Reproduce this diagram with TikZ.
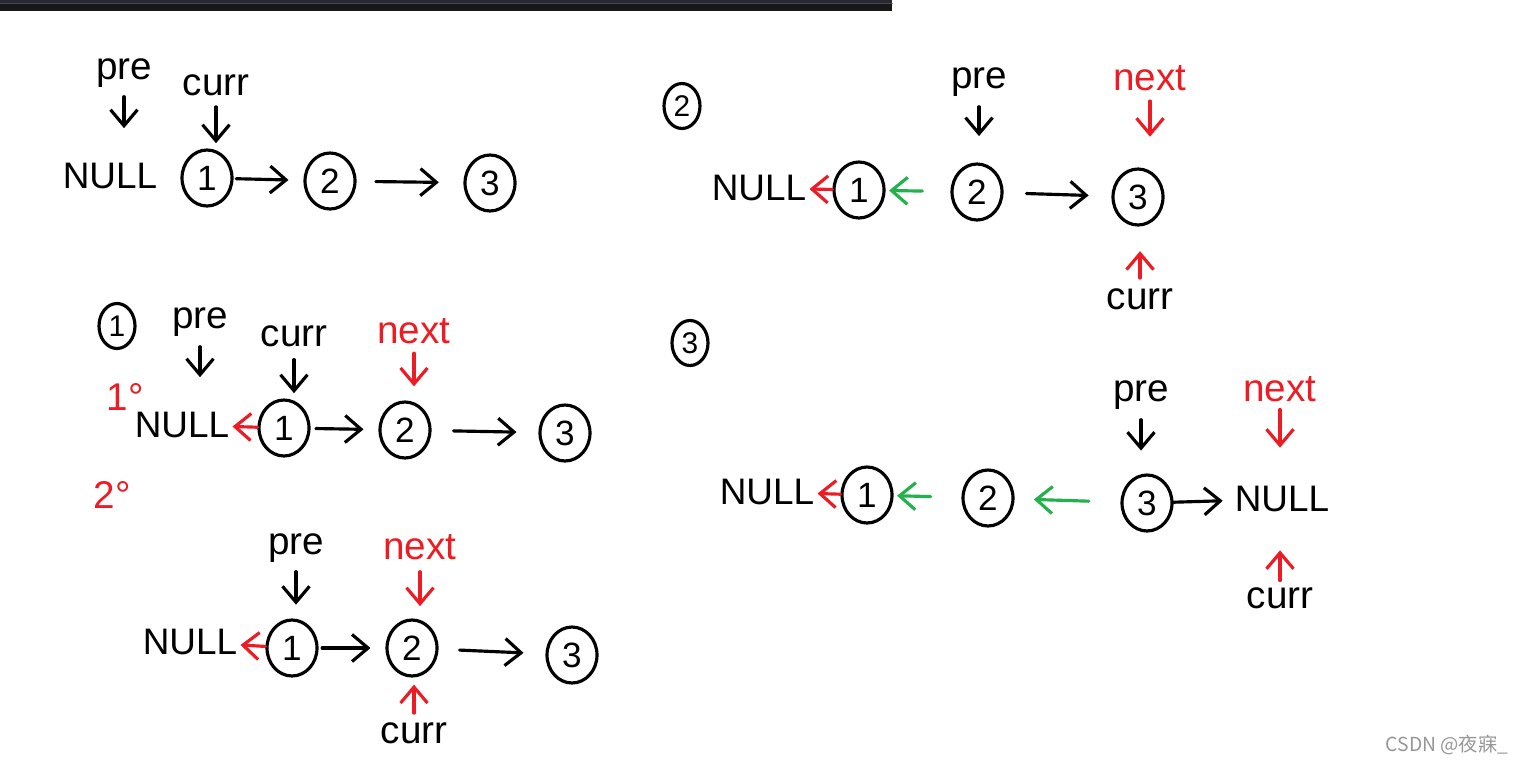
\documentclass[tikz,border=0pt]{standalone}
\usepackage{fontspec}
\setmainfont{Liberation Sans}
\newfontfamily\cjkfont{Noto Sans CJK SC}
\usetikzlibrary{arrows.meta,shapes.geometric}
\definecolor{penred}{RGB}{237,28,36}
\definecolor{pengreen}{RGB}{34,177,76}
\definecolor{barblack}{RGB}{24,24,25}
\definecolor{bartop}{RGB}{40,41,46}
\definecolor{barline}{RGB}{72,73,78}
\definecolor{markgray}{RGB}{150,150,150}
\tikzset{
  elem/.style={ellipse,draw,minimum width=1cm,minimum height=1.12cm,inner sep=0pt,font=\fontsize{20}{22}\selectfont},
  stepno/.style={ellipse,draw,minimum width=0.72cm,minimum height=0.9cm,inner sep=0pt,font=\fontsize{17}{18}\selectfont},
  nil/.style={inner sep=1pt,font=\fontsize{21}{23}\selectfont},
  ptr/.style={inner sep=1pt,font=\fontsize{22}{24}\selectfont},
  redptr/.style={ptr,text=penred},
  rlink/.style={->,penred},
  glink/.style={->,pengreen},
}

\begin{document}
\begin{tikzpicture}[x=0.02cm,y=-0.02cm,line width=1.8pt,line cap=round,>={Straight Barb[length=3.2mm,width=5.4mm]}]
  \useasboundingbox (0,0) rectangle (1523,764);
  \fill[barblack] (0,0) rectangle (892,11);
  \fill[bartop] (0,0) rectangle (892,3);
  \draw[barline,line width=0.6pt] (0,3.5) -- (892,3.5);

  % start
  \node[nil] (anull) at (110,176) {NULL};
  \node[elem] (a1) at (207,178) {1};
  \node[elem] (a2) at (330,181) {2};
  \node[elem] (a3) at (490,183) {3};
  \node[ptr] (apre) at (124,73) {pre};
  \node[ptr] (acurr) at (216,85) {curr};
  \draw[->,shorten <=3.4pt,shorten >=18pt] (apre.south) -- (apre.south |- anull.north);
  \draw[->,shorten <=4.5pt,shorten >=3pt] (acurr.south) -- (acurr.south |- a1.north);
  \draw[->,shorten <=1.5pt,shorten >=8.5pt] (a1) -- (a2);
  \draw[->,shorten <=11pt,shorten >=14pt] (a2) -- (a3);

  % step 1
  \node[stepno] (bstep) at (117,326) {1};
  \node[redptr] (bdeg1) at (125,397) {1°};
  \node[redptr] (bdeg2) at (112,495) {2°};
  \node[nil] (bnull) at (182,425) {NULL};
  \node[elem] (b1) at (284,428) {1};
  \node[elem] (b2) at (405,430) {2};
  \node[elem] (b3) at (565,433) {3};
  \node[ptr] (bpre) at (200,322) {pre};
  \node[ptr] (bcurr) at (294,336) {curr};
  \node[redptr] (bnext) at (414,331) {next};
  \draw[->,shorten <=4pt,shorten >=18pt] (bpre.south) -- (bpre.south |- bnull.north);
  \draw[->,shorten <=5.5pt,shorten >=3pt] (bcurr.south) -- (bcurr.south |- b1.north);
  \draw[rlink,shorten <=3.5pt,shorten >=8pt] (bnext.south) -- (bnext.south |- b2.north);
  \draw[rlink] (b1) -- (bnull);
  \draw[->,shorten <=3pt,shorten >=8.5pt] (b1) -- (b2);
  \draw[->,shorten <=12.5pt,shorten >=12.5pt] (b2) -- (b3);

  \node[nil] (cnull) at (190,642) {NULL};
  \node[elem] (c1) at (292,648) {1};
  \node[elem] (c2) at (412,648) {2};
  \node[elem] (c3) at (572,655) {3};
  \node[ptr] (cpre) at (296,548) {pre};
  \node[redptr] (cnext) at (420,547) {next};
  \node[ptr] (ccurr) at (414,733) {curr};
  \draw[->,shorten <=3.4pt,shorten >=12pt] (cpre.south) -- (cpre.south |- cnull.north);
  \draw[rlink,shorten <=5pt,shorten >=7pt] (cnext.south) -- (cnext.south |- c2.north);
  \draw[rlink,shorten <=3.4pt,shorten >=4pt] (ccurr.north) -- (ccurr.north |- c2.south);
  \draw[rlink] (c1) -- (cnull);
  \draw[->,shorten <=2pt,shorten >=8.5pt] (c1) -- (c2);
  \draw[->,shorten <=12pt,shorten >=12.5pt] (c2) -- (c3);

  % step 2
  \node[stepno] (dstep) at (682,106) {2};
  \node[nil] (dnull) at (759,188) {NULL};
  \node[elem] (d1) at (859,190) {1};
  \node[elem] (d2) at (977,192) {2};
  \node[elem] (d3) at (1138,197) {3};
  \node[ptr] (dpre) at (979,82) {pre};
  \node[redptr] (dnext) at (1150,78) {next};
  \node[ptr] (dcurr) at (1140,299) {curr};
  \draw[->,shorten <=4pt,shorten >=15pt] (dpre.south) -- (dpre.south |- d2.north);
  \draw[rlink,shorten <=4pt,shorten >=17.5pt] (dnext.south) -- (dnext.south |- d3.north);
  \draw[rlink,shorten <=4pt,shorten >=14pt] (dcurr.north) -- (dcurr.north |- d3.south);
  \draw[rlink] (d1) -- (dnull);
  \draw[glink,shorten <=16pt,shorten >=2pt] (d2) -- (d1);
  \draw[->,shorten <=13pt,shorten >=13pt] (d2) -- (d3);

  % step 3
  \node[stepno] (estep) at (690,343) {3};
  \node[nil] (enull) at (767,492) {NULL};
  \node[elem] (e1) at (867,495) {1};
  \node[elem] (e2) at (988,498) {2};
  \node[elem] (e3) at (1147,503) {3};
  \node[nil] (enil) at (1282,499) {NULL};
  \node[ptr] (epre) at (1141,395) {pre};
  \node[redptr] (enext) at (1280,389) {next};
  \node[ptr] (ecurr) at (1280,598) {curr};
  \draw[->,shorten <=4pt,shorten >=13pt] (epre.south) -- (epre.south |- e3.north);
  \draw[rlink,shorten <=2.5pt,shorten >=20pt] (enext.south) -- (enext.south |- enil.north);
  \draw[rlink,shorten <=2pt,shorten >=20pt] (ecurr.north) -- (ecurr.north |- enil.south);
  \draw[rlink] (e1) -- (enull);
  \draw[glink,shorten <=17.5pt,shorten >=2pt] (e2) -- (e1);
  \draw[glink,shorten <=18pt,shorten >=11pt] (e3) -- (e2);
  \draw[->,shorten >=5pt] (e3) -- (enil);

  \node[text=markgray,font=\cjkfont\fontsize{11}{12}\selectfont] (mark) at (1447,745) {CSDN @夜寐\_};
\end{tikzpicture}
\end{document}
